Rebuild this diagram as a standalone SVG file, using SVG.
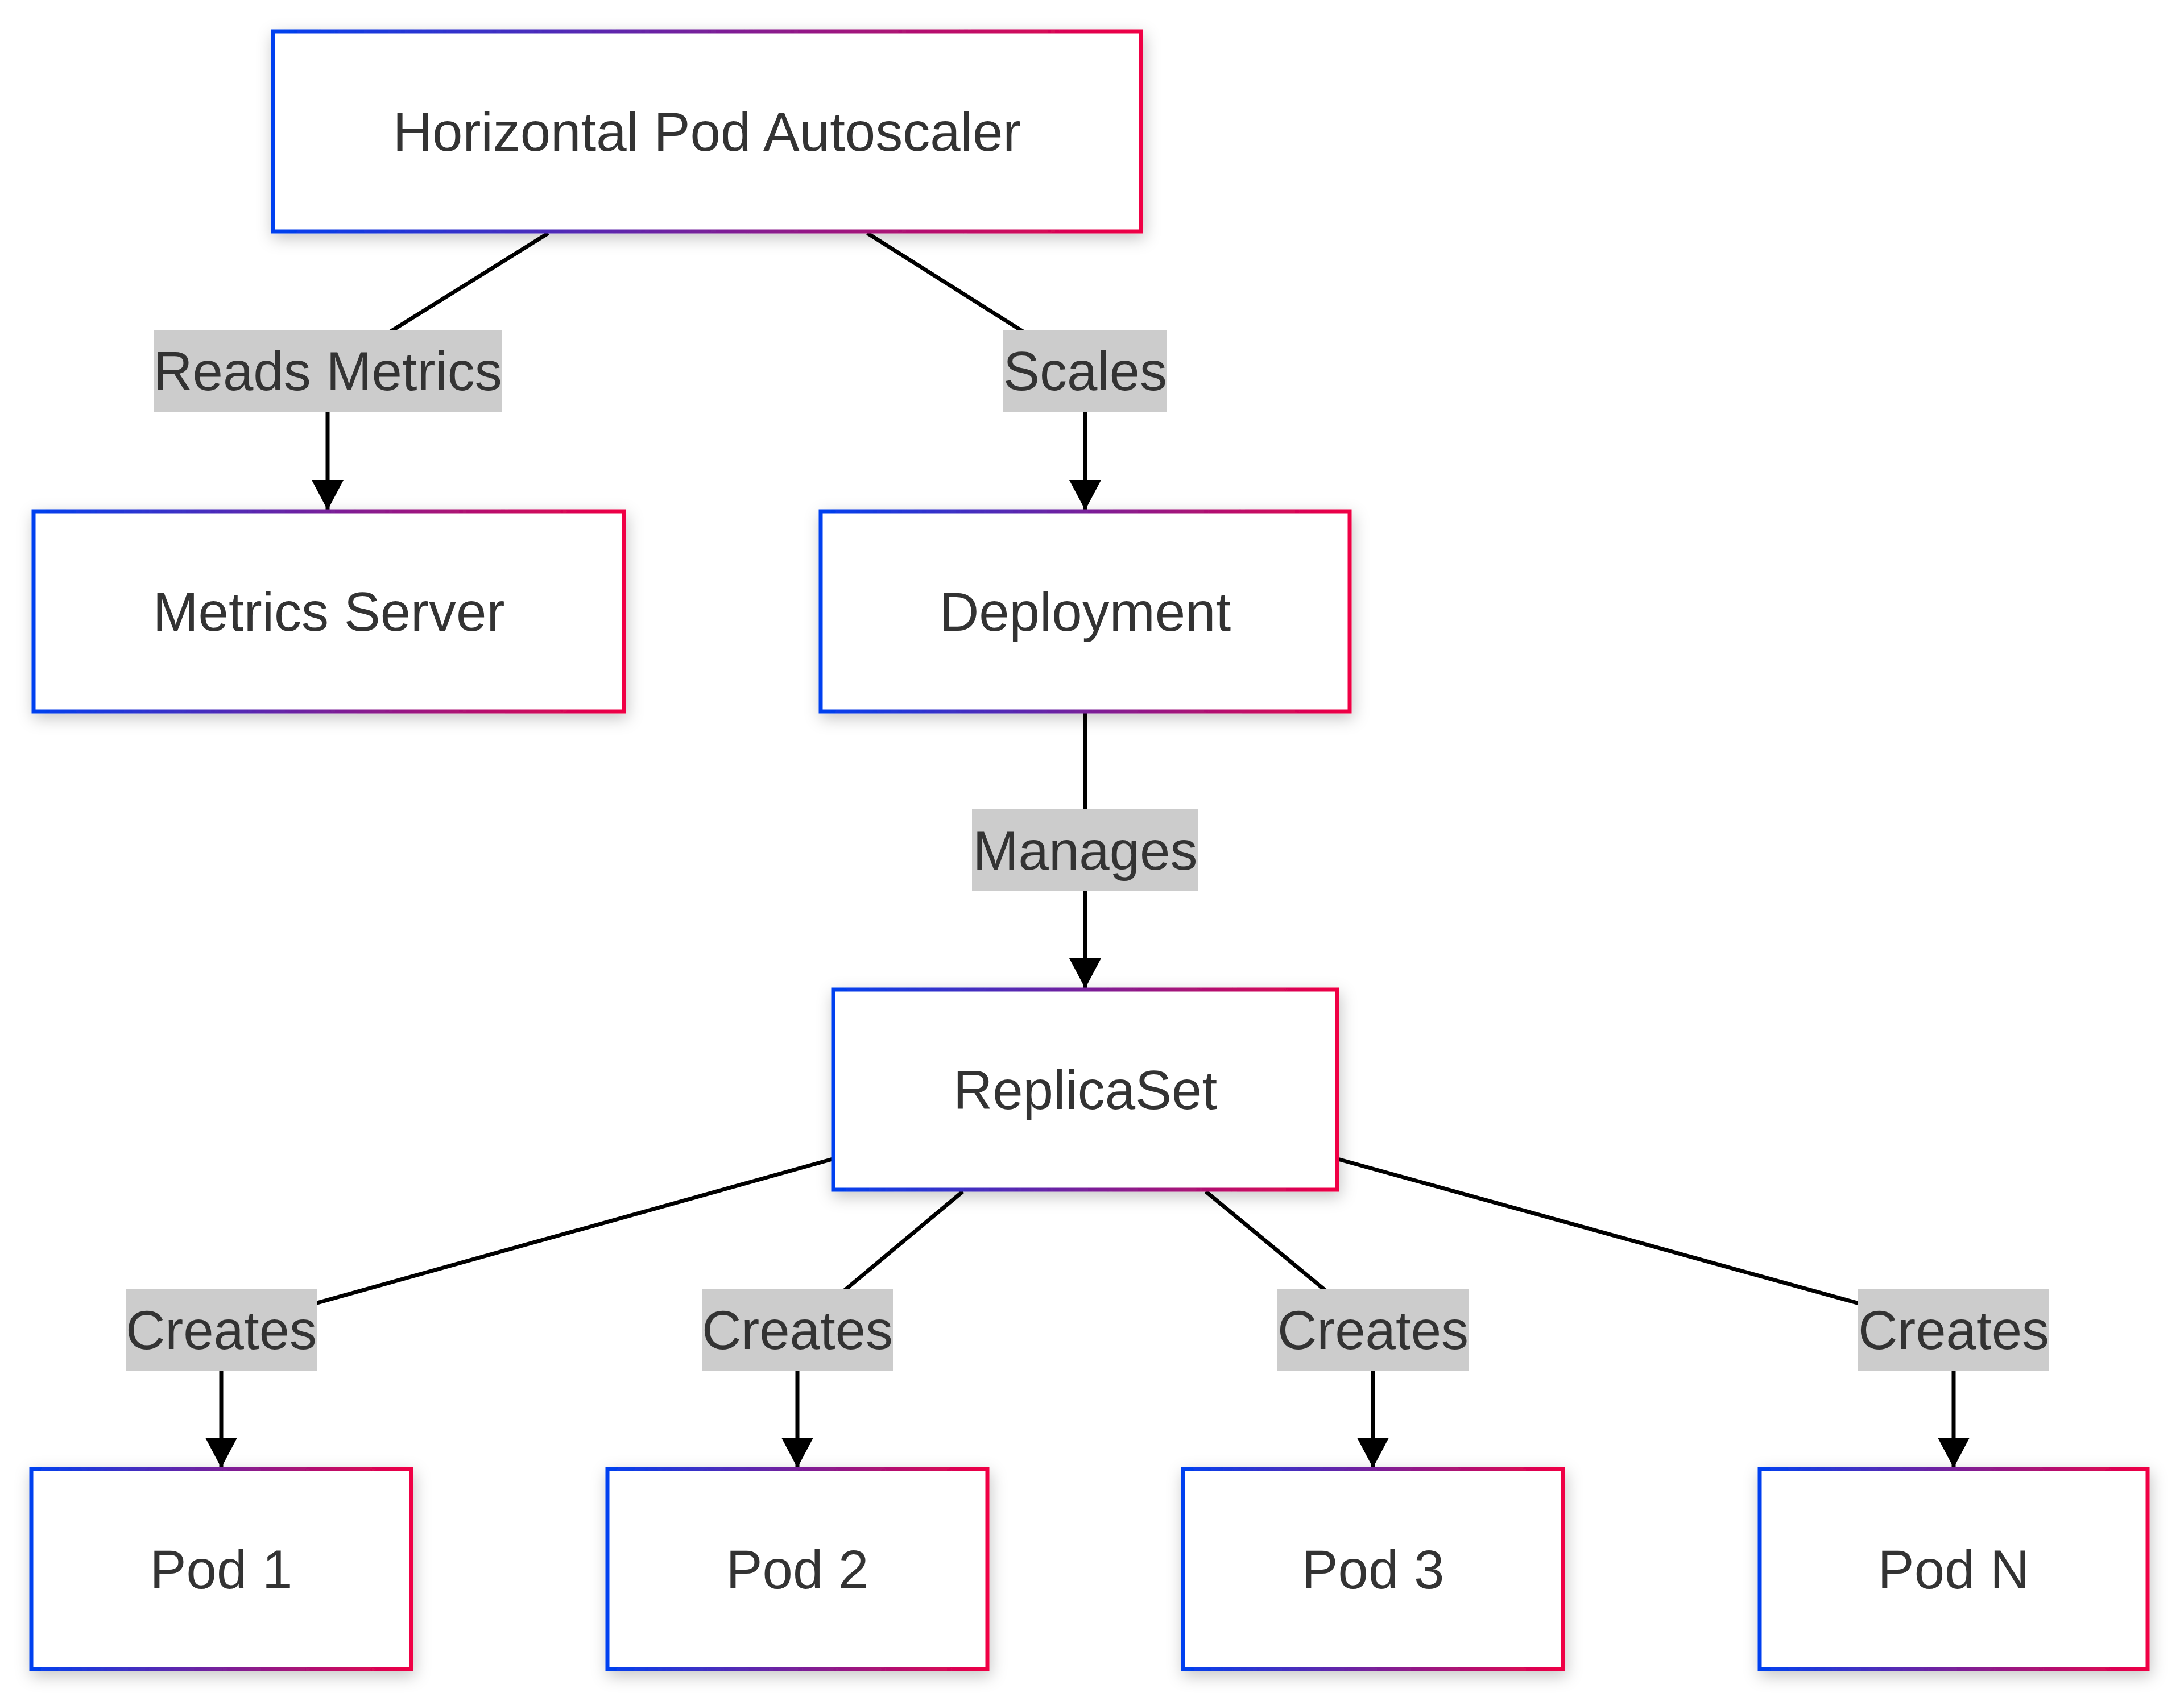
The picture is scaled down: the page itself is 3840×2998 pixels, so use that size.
<svg xmlns="http://www.w3.org/2000/svg" width="3840" height="2998" viewBox="0 0 3840 2998">
<style>
.node rect{fill:#ffffff;stroke:url(#grad);stroke-width:7;filter:url(#shadow)}
.node text,.lbl text{font-family:"Liberation Sans",Arial,sans-serif;font-size:96px;fill:#333333;text-anchor:middle;dominant-baseline:central}
.edge{fill:none;stroke:#000000;stroke-width:7}
.lbl rect{fill:#cccccc}
</style>
<defs>
<linearGradient id="grad" x1="0" y1="0" x2="1" y2="0">
<stop offset="0" stop-color="#0040f0"/>
<stop offset="1" stop-color="#f00044"/>
</linearGradient>
<filter id="shadow" x="-15%" y="-20%" width="135%" height="150%">
<feDropShadow dx="3" dy="9" stdDeviation="14" flood-color="#000000" flood-opacity="0.22"/>
</filter>
<marker id="arrow" viewBox="0 0 53 56" refX="53" refY="28" markerWidth="53" markerHeight="56" markerUnits="userSpaceOnUse" orient="auto">
<path d="M0,0 L53,28 L0,56 z" fill="#000000"/>
</marker>
</defs>
<rect x="0" y="0" width="3840" height="2998" fill="#ffffff"/>
<g id="connectors">
<path class="edge" d="M964,410 L576,652 L576,897" marker-end="url(#arrow)"/>
<path class="edge" d="M1525,410 L1908,652 L1908,897" marker-end="url(#arrow)"/>
<path class="edge" d="M1908,1252 L1908,1738" marker-end="url(#arrow)"/>
<path class="edge" d="M1464,2038 L389,2338 L389,2581" marker-end="url(#arrow)"/>
<path class="edge" d="M1693,2095 L1402,2338 L1402,2581" marker-end="url(#arrow)"/>
<path class="edge" d="M2120,2095 L2414,2338 L2414,2581" marker-end="url(#arrow)"/>
<path class="edge" d="M2352,2038 L3435,2338 L3435,2581" marker-end="url(#arrow)"/>
<g class="lbl"><rect x="270" y="580" width="612" height="144"/><text x="576" y="652">Reads Metrics</text></g>
<g class="lbl"><rect x="1764" y="580" width="288" height="144"/><text x="1908" y="652">Scales</text></g>
<g class="lbl"><rect x="1709" y="1423" width="398" height="144"/><text x="1908" y="1495">Manages</text></g>
<g class="lbl"><rect x="221" y="2266" width="336" height="144"/><text x="389" y="2338">Creates</text></g>
<g class="lbl"><rect x="1234" y="2266" width="336" height="144"/><text x="1402" y="2338">Creates</text></g>
<g class="lbl"><rect x="2246" y="2266" width="336" height="144"/><text x="2414" y="2338">Creates</text></g>
<g class="lbl"><rect x="3267" y="2266" width="336" height="144"/><text x="3435" y="2338">Creates</text></g>
</g>
<g id="hpa" class="node"><rect x="479.5" y="55" width="1527" height="352"/><text x="1243" y="231">Horizontal Pod Autoscaler</text></g>
<g id="metrics" class="node"><rect x="59" y="899" width="1038" height="352"/><text x="578" y="1075">Metrics Server</text></g>
<g id="deployment" class="node"><rect x="1443" y="899" width="930" height="352"/><text x="1908" y="1075">Deployment</text></g>
<g id="replicaset" class="node"><rect x="1465" y="1740" width="886" height="352"/><text x="1908" y="1916">ReplicaSet</text></g>
<g id="pod1" class="node"><rect x="55" y="2583" width="668" height="352"/><text x="389" y="2759">Pod 1</text></g>
<g id="pod2" class="node"><rect x="1068" y="2583" width="668" height="352"/><text x="1402" y="2759">Pod 2</text></g>
<g id="pod3" class="node"><rect x="2080" y="2583" width="668" height="352"/><text x="2414" y="2759">Pod 3</text></g>
<g id="podn" class="node"><rect x="3094" y="2583" width="682" height="352"/><text x="3435" y="2759">Pod N</text></g>
</svg>
